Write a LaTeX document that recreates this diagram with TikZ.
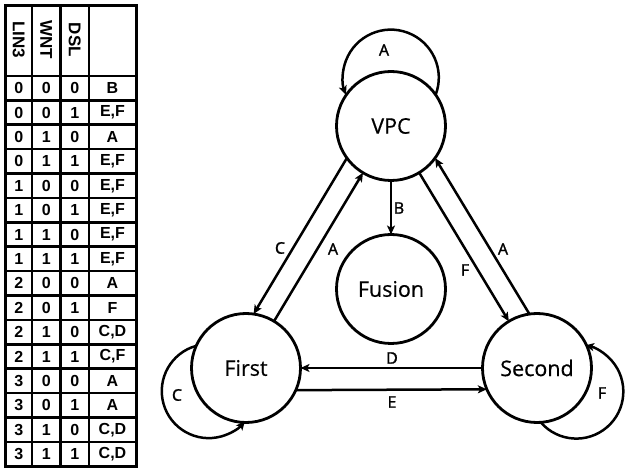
\documentclass[tikz,border=0pt]{standalone}
\usepackage{fontspec}
\newfontfamily\nodefont{Open Sans}[FakeBold=0.5]
\newfontfamily\lblfont{Open Sans}[FakeBold=1.5]
\newfontfamily\tabfont{Liberation Sans}
\usetikzlibrary{arrows.meta}
\begin{document}
\begin{tikzpicture}[x=1pt,y=1pt,
  state/.style={circle, draw, line width=2.8pt, minimum size=109pt, inner sep=0pt, outer sep=0pt, font=\nodefont\fontsize{21.5}{24}\selectfont},
  arr/.style={line width=2.5pt, -{Stealth[length=9pt,width=8pt,inset=2.2pt]}},
  lbl/.style={font=\lblfont\fontsize{16}{18}\selectfont, inner sep=0pt},
  cell/.style={font=\tabfont\bfseries\fontsize{16}{18}\selectfont, inner sep=0pt},
  hcell/.style={font=\tabfont\bfseries\fontsize{17}{19}\selectfont, inner sep=0pt, rotate=-90},
  gridline/.style={line width=2.6pt}]
\useasboundingbox (0,0) rectangle (637,474);
\fill[white] (0,0) rectangle (637,474);
% table
\draw[line width=3pt] (5.5,7.6) rectangle (136,468);
\foreach \x in {32,60.5,89} \draw[gridline] (\x,7.6) -- (\x,468);
\draw[gridline] (5.5,398) -- (136,398);
\foreach \k in {1,...,15} \draw[gridline] (5.5,{398-24.4*\k}) -- (136,{398-24.4*\k});
\node[hcell] (h1) at (18.75,434) {LIN3};
\node[hcell] (h2) at (46.25,434) {WNT};
\node[hcell] (h3) at (74.75,434) {DSL};
\foreach \a/\b/\c/\d [count=\i from 0] in {0/0/0/B, 0/0/1/{E,F}, 0/1/0/A, 0/1/1/{E,F}, 1/0/0/{E,F}, 1/0/1/{E,F}, 1/1/0/{E,F}, 1/1/1/{E,F}, 2/0/0/A, 2/0/1/F, 2/1/0/{C,D}, 2/1/1/{C,F}, 3/0/0/A, 3/0/1/A, 3/1/0/{C,D}, 3/1/1/{C,D}} {
  \node[cell] (r\i-1) at (18.75,{398-24.4*(\i+0.5)}) {\a};
  \node[cell] (r\i-2) at (46.25,{398-24.4*(\i+0.5)}) {\b};
  \node[cell] (r\i-3) at (74.75,{398-24.4*(\i+0.5)}) {\c};
  \node[cell] (r\i-4) at (112.5,{398-24.4*(\i+0.5)}) {\d};
}
% graph
\node[state] (VPC) at (391,348) {VPC};
\node[state] (Fusion) at (391,185) {Fusion};
\node[state] (First) at (246,106) {First};
\node[state] (Second) at (537,106) {Second};
\draw[arr] (VPC) -- (Fusion);
\draw[arr] (VPC.216.1) -- (First.82.1);
\draw[arr] (First) -- (VPC);
\draw[arr] (VPC) -- (Second);
\draw[arr] (Second.98.1) -- (VPC.324.1);
\draw[arr] (Second) -- (First);
\draw[arr] (First.336.8) -- (Second.203.2);
\draw[arr] (VPC.35.5) arc[start angle=-20.9, end angle=200.9, radius=48pt];
\draw[arr] (First.156.8) arc[start angle=105.5, end angle=320.3, radius=47pt];
\draw[arr] (Second.274.8) arc[start angle=220.9, end angle=439.3, radius=47pt];
\node[lbl] (lA0) at (384,424) {A};
\node[lbl] (lC) at (280,226) {C};
\node[lbl] (lA1) at (333,225) {A};
\node[lbl] (lF) at (465,204) {F};
\node[lbl] (lA2) at (503,225) {A};
\node[lbl] (lB) at (399,266) {B};
\node[lbl] (lD) at (392,116) {D};
\node[lbl] (lE) at (392,72) {E};
\node[lbl] (lC2) at (177,79) {C};
\node[lbl] (lF2) at (602,81) {F};
\end{tikzpicture}
\end{document}
